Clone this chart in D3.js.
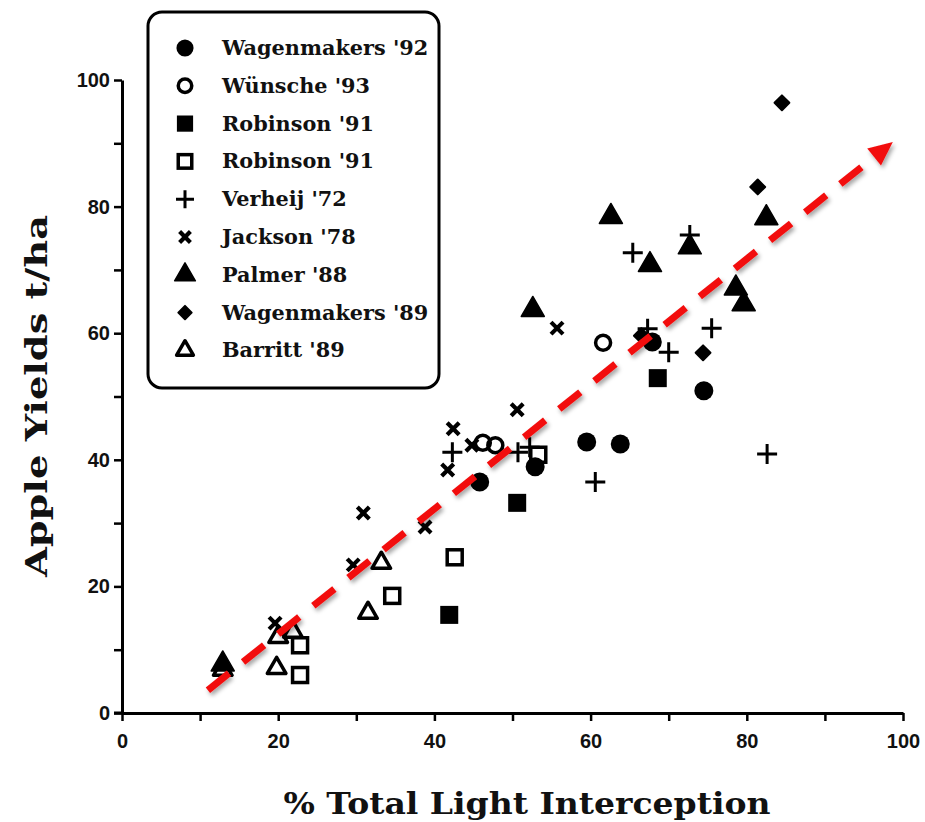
<!DOCTYPE html>
<html>
<head>
<meta charset="utf-8">
<script src="https://cdn.jsdelivr.net/npm/d3@7"></script>
<style>
  html, body { margin: 0; padding: 0; background: #fff; }
  svg { display: block; }
</style>
</head>
<body>
<svg id="chart" width="925" height="822"></svg>
<script>
// Apple yield vs. light interception, several published studies.
const seriesNames = [
  "Wagenmakers '92", "Wünsche '93", "Robinson '91", "Robinson '91",
  "Verheij '72", "Jackson '78", "Palmer '88", "Wagenmakers '89", "Barritt '89"
];
const seriesMarks = ["circle", "circleOpen", "square", "squareOpen",
  "plus", "cross", "triangle", "diamond", "triangleOpen"];

// [light interception %, yield t/ha]
const wagenmakers92 = [[45.8, 36.5], [52.9, 38.9], [59.5, 42.8], [63.8, 42.5], [74.5, 50.9], [67.9, 58.6]];
const wunsche93 = [[61.6, 58.5], [46.2, 42.7], [47.8, 42.3]];
const robinsonFilled = [[50.6, 33.2], [41.9, 15.5], [68.6, 52.9]];
const robinsonOpen = [[53.3, 40.8], [42.6, 24.6], [34.6, 18.5], [22.8, 10.7], [22.8, 6.0]];
const verheij72 = [[42.3, 41.2], [50.7, 41.2], [52.2, 42.0], [60.6, 36.5], [67.3, 60.7], [70.0, 57.0],
  [75.5, 60.8], [65.4, 72.7], [72.7, 75.5], [82.6, 40.9]];
const jackson78 = [[55.7, 60.8], [50.6, 47.9], [42.4, 44.9], [44.8, 42.3], [41.7, 38.4], [30.9, 31.6],
  [38.8, 29.4], [29.6, 23.4], [19.6, 14.2]];
const palmer88 = [[52.6, 63.7], [62.6, 78.4], [67.6, 70.8], [72.7, 73.6], [78.6, 67.1], [79.6, 64.6],
  [82.5, 78.2], [12.9, 7.7]];
const wagenmakers89 = [[84.5, 96.4], [81.4, 83.1], [74.4, 56.9], [66.5, 59.6]];
const barritt89 = [[33.2, 23.7], [31.5, 15.8], [20.0, 12.0], [21.9, 12.8], [19.8, 7.1], [12.9, 6.8]];

const seriesData = [wagenmakers92, wunsche93, robinsonFilled, robinsonOpen,
  verheij72, jackson78, palmer88, wagenmakers89, barritt89];

// overall trend drawn as a dashed arrow
const trendLine = [[11.0, 3.6], [98.7, 90.2]];

const axisTicks = [0, 10, 20, 30, 40, 50, 60, 70, 80, 90, 100];
const xTitle = "% Total Light Interception";
const yTitle = "Apple Yields t/ha";

const svg = d3.select("#chart");
const x = d3.scaleLinear().domain([0, 100]).range([122, 903]);
const y = d3.scaleLinear().domain([0, 100]).range([713, 80]);

// filter for the soft shadow under the red arrow
const defs = svg.append("defs");
const f = defs.append("filter").attr("id", "shadow")
  .attr("x", "-10%").attr("y", "-10%").attr("width", "130%").attr("height", "130%");
f.append("feDropShadow").attr("dx", 2).attr("dy", 3).attr("stdDeviation", 2)
  .attr("flood-color", "#000").attr("flood-opacity", 0.35);

// axes
const tickFmt = d => (d % 20 === 0 ? d : "");
const xAxis = svg.append("g").attr("transform", `translate(0,${y(0)})`)
  .call(d3.axisBottom(x).tickValues(axisTicks).tickFormat(tickFmt).tickSize(8).tickSizeOuter(0).tickPadding(13));
const yAxis = svg.append("g").attr("transform", `translate(${x(0)},0)`)
  .call(d3.axisLeft(y).tickValues(axisTicks).tickFormat(tickFmt).tickSize(8).tickSizeOuter(0).tickPadding(4));
[xAxis, yAxis].forEach(g => {
  g.attr("font-size", 20).attr("font-family", "'Liberation Sans', Arial, sans-serif");
  g.select(".domain").attr("stroke", "#000").attr("stroke-width", 3);
  g.selectAll(".tick line").attr("stroke", "#000").attr("stroke-width", 2.5);
  g.selectAll(".tick text")
    .attr("fill", "#111")
    .attr("font-weight", "bold")
    .attr("font-size", 20);
});
// extend the x axis line slightly past the origin
svg.append("line").attr("x1", x(0) - 8).attr("x2", x(0)).attr("y1", y(0)).attr("y2", y(0))
  .attr("stroke", "#000").attr("stroke-width", 3);

// axis titles
svg.append("text")
  .attr("x", 527).attr("y", 814)
  .attr("text-anchor", "middle")
  .attr("textLength", 487).attr("lengthAdjust", "spacingAndGlyphs")
  .style("font-family", "'DejaVu Serif', serif").style("font-weight", "bold").style("font-size", "30px")
  .attr("fill", "#111")
  .text(xTitle);
svg.append("text")
  .attr("transform", "translate(47,396) rotate(-90)")
  .attr("text-anchor", "middle")
  .attr("textLength", 362).attr("lengthAdjust", "spacingAndGlyphs")
  .style("font-family", "'DejaVu Serif', serif").style("font-weight", "bold").style("font-size", "30px")
  .attr("fill", "#111")
  .text(yTitle);

// marker drawing
function drawMark(g, kind, cx, cy, s) {
  const k = s || 1;
  switch (kind) {
    case "circle":
      g.append("circle").attr("cx", cx).attr("cy", cy).attr("r", 9.5 * k).attr("fill", "#000");
      break;
    case "circleOpen":
      g.append("circle").attr("cx", cx).attr("cy", cy).attr("r", 7.5 * k)
        .attr("fill", "none").attr("stroke", "#000").attr("stroke-width", 3.5);
      break;
    case "square":
      g.append("rect").attr("x", cx - 9 * k).attr("y", cy - 9 * k).attr("width", 18 * k).attr("height", 18 * k)
        .attr("fill", "#000");
      break;
    case "squareOpen":
      g.append("rect").attr("x", cx - 7.5 * k).attr("y", cy - 7.5 * k).attr("width", 15 * k).attr("height", 15 * k)
        .attr("fill", "none").attr("stroke", "#000").attr("stroke-width", 3.5);
      break;
    case "plus":
      g.append("path").attr("d", `M${cx - 10 * k},${cy}H${cx + 10 * k}M${cx},${cy - 10 * k}V${cy + 10 * k}`)
        .attr("stroke", "#000").attr("stroke-width", 3).attr("fill", "none");
      break;
    case "cross":
      g.append("path").attr("d", `M${cx - 6 * k},${cy - 6 * k}L${cx + 6 * k},${cy + 6 * k}M${cx + 6 * k},${cy - 6 * k}L${cx - 6 * k},${cy + 6 * k}`)
        .attr("stroke", "#000").attr("stroke-width", 4.2).attr("fill", "none");
      break;
    case "triangle":
      g.append("path").attr("transform", `translate(${cx},${cy})`)
        .attr("d", d3.symbol(d3.symbolTriangle, 230 * k * k)()).attr("fill", "#000")
        .attr("stroke", "#000").attr("stroke-width", 1.5).attr("stroke-linejoin", "round");
      break;
    case "triangleOpen":
      g.append("path").attr("transform", `translate(${cx},${cy})`)
        .attr("d", d3.symbol(d3.symbolTriangle, 150 * k * k)()).attr("fill", "none")
        .attr("stroke", "#000").attr("stroke-width", 3.5).attr("stroke-linejoin", "round");
      break;
    case "diamond":
      // a square turned 45 degrees
      g.append("path").attr("transform", `translate(${cx},${cy}) rotate(45)`)
        .attr("d", d3.symbol(d3.symbolSquare, 110 * k * k)()).attr("fill", "#000")
        .attr("stroke", "#000").attr("stroke-width", 2).attr("stroke-linejoin", "round");
      break;
  }
}

// data points
const pts = svg.append("g");
seriesData.forEach((arr, i) => {
  arr.forEach(d => drawMark(pts, seriesMarks[i], x(d[0]), y(d[1])));
});

// legend
const legend = svg.append("g");
legend.append("rect")
  .attr("x", 148).attr("y", 12).attr("width", 291).attr("height", 376)
  .attr("rx", 14).attr("ry", 14)
  .attr("fill", "#fff").attr("stroke", "#000").attr("stroke-width", 3);
seriesNames.forEach((name, i) => {
  const cy = 48 + i * 37.8;
  drawMark(legend, seriesMarks[i], 185, cy, 0.9);
  legend.append("text")
    .attr("x", 222).attr("y", cy + 7)
    .style("font-family", "'DejaVu Serif', serif").style("font-weight", "bold").style("font-size", "20.8px")
    .attr("fill", "#111")
    .text(name);
});

// trend arrow
const [p0, p1] = trendLine.map(d => [x(d[0]), y(d[1])]);
const ang = Math.atan2(p1[1] - p0[1], p1[0] - p0[0]);
const headLen = 24, headHalf = 11;
const base = [p1[0] - headLen * Math.cos(ang), p1[1] - headLen * Math.sin(ang)];
const arrow = svg.append("g").attr("filter", "url(#shadow)");
arrow.append("line")
  .attr("x1", p0[0]).attr("y1", p0[1]).attr("x2", base[0] + 4 * Math.cos(ang)).attr("y2", base[1] + 4 * Math.sin(ang))
  .attr("stroke", "#f21010").attr("stroke-width", 7)
  .attr("stroke-dasharray", "27,18");
arrow.append("path")
  .attr("d", `M${p1[0]},${p1[1]}` +
    `L${base[0] + headHalf * Math.sin(ang)},${base[1] - headHalf * Math.cos(ang)}` +
    `L${base[0] - headHalf * Math.sin(ang)},${base[1] + headHalf * Math.cos(ang)}Z`)
  .attr("fill", "#f21010");
</script>
</body>
</html>
